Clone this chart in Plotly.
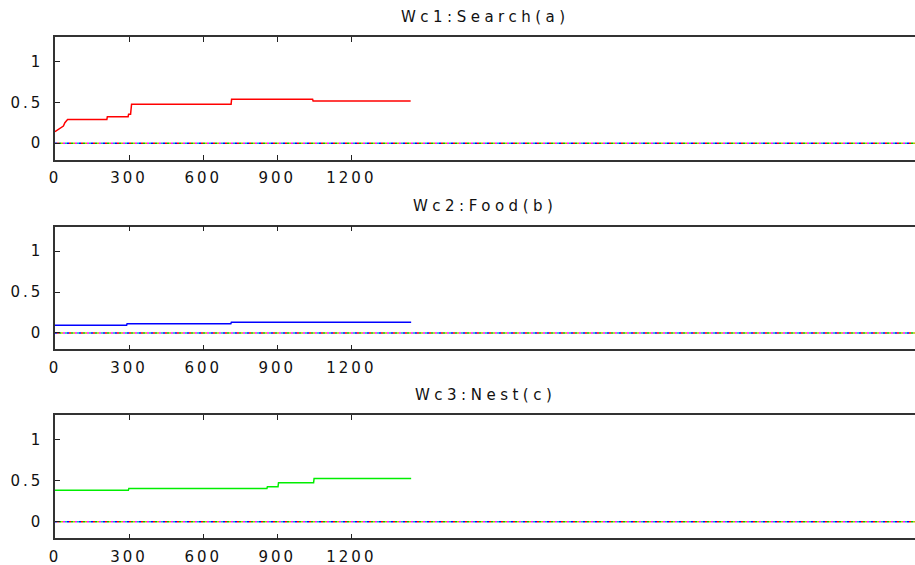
import plotly.graph_objects as go

# ---------------- data ----------------
titles = ["Wc1:Search(a)", "Wc2:Food(b)", "Wc3:Nest(c)"]

search_t = [0, 34, 40, 51, 210, 212, 296, 298, 306, 310, 713, 715, 1043, 1045, 1440]
search_w = [0.14, 0.21, 0.25, 0.29, 0.29, 0.325, 0.325, 0.355, 0.355, 0.477, 0.477, 0.537, 0.537, 0.516, 0.516]

food_t = [0, 290, 292, 712, 714, 1442]
food_w = [0.094, 0.094, 0.114, 0.114, 0.131, 0.131]

nest_t = [0, 297, 299, 858, 860, 903, 905, 1047, 1049, 1442]
nest_w = [0.386, 0.386, 0.406, 0.406, 0.428, 0.428, 0.477, 0.477, 0.528, 0.528]

baseline_t = [0, 3500]
baseline_w = [0, 0]
baseline_colors = ["#0000ff", "#ff0000", "#00c000", "#c0c000", "#ff00ff", "#00c0c0"]

x_ticks = [0, 300, 600, 900, 1200]
x_ticklabels = ["0", "300", "600", "900", "1200"]
y_ticks = [0, 0.5, 1]
y_ticklabels = ["0", "0.5", "1"]
x_range = [0, 3482]
y_range = [-0.2, 1.3]

series = [(search_t, search_w, "#ff0000"),
          (food_t, food_w, "#0000ff"),
          (nest_t, nest_w, "#00ee00")]

# ---------------- layout helpers ----------------
W, H = 915, 565
panels_px = [(37, 159.5), (226.7, 349.3), (415, 538.3)]  # top, bottom in px
title_px = [17, 206, 395]
left_px = 55

def spaced(s, ls):
    return f'<span style="letter-spacing:{ls}px">{s}</span>'

fig = go.Figure()
font_fam = "DejaVu Sans, Liberation Sans, Arial, sans-serif"

for i, ((t, w, col), (top, bot)) in enumerate(zip(series, panels_px)):
    xa = "x" if i == 0 else f"x{i+1}"
    ya = "y" if i == 0 else f"y{i+1}"
    # dotted multi-coloured baselines
    n = len(baseline_colors)
    period = 2 * n
    for k, bc in enumerate(baseline_colors):
        dash = f"0px,{2*k}px,2px,{period-2*k-2}px" if k > 0 else f"2px,{period-2}px"
        fig.add_trace(go.Scatter(x=baseline_t, y=baseline_w, mode="lines",
                                 line=dict(color=bc, width=1.5, dash=dash),
                                 xaxis=xa, yaxis=ya, showlegend=False, hoverinfo="skip"))
    fig.add_trace(go.Scatter(x=t, y=w, mode="lines", line=dict(color=col, width=1.5),
                             xaxis=xa, yaxis=ya, showlegend=False))
    dom = [1 - bot / H, 1 - top / H]
    axis_common = dict(showline=True, linecolor="#333333", linewidth=1.5,
                       ticks="inside", ticklen=5, tickcolor="#222222", tickwidth=1,
                       showgrid=False, zeroline=False, automargin=False,
                       tickfont=dict(family=font_fam, size=15, color="#111111"))
    fig.layout[("xaxis" if i == 0 else f"xaxis{i+1}")] = dict(
        domain=[left_px / W, 1], range=x_range, tickvals=x_ticks,
        ticktext=[spaced(s, 3) for s in x_ticklabels], ticklabelstandoff=4,
        mirror="ticks", anchor=ya, **axis_common)
    fig.layout[("yaxis" if i == 0 else f"yaxis{i+1}")] = dict(
        domain=dom, range=y_range, tickvals=y_ticks,
        ticktext=[spaced(s, 3) for s in y_ticklabels],
        mirror=False, anchor=xa, ticklabelstandoff=7, **axis_common)
    fig.add_annotation(text=spaced(titles[i], 4.5), xref="paper", yref="paper",
                       x=(left_px / W + 1) / 2, y=1 - title_px[i] / H,
                       xanchor="center", yanchor="middle", showarrow=False,
                       font=dict(family=font_fam, size=15, color="#111111"))

fig.update_layout(width=W, height=H, margin=dict(l=0, r=0, t=0, b=0),
                  paper_bgcolor="white", plot_bgcolor="white")

fig.write_html("out.html")
